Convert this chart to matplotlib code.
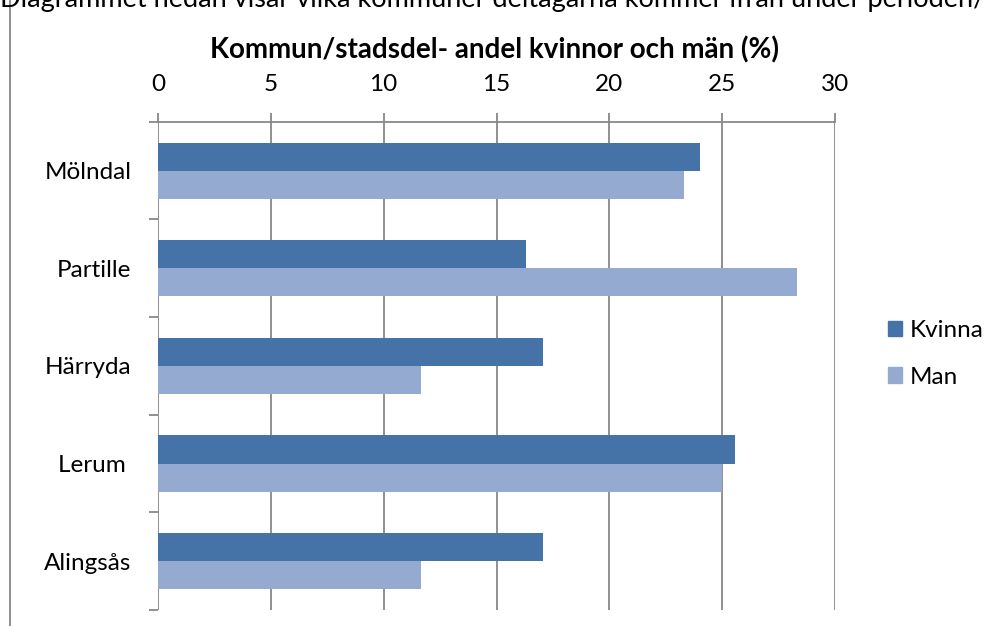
import matplotlib
matplotlib.use("Agg")
import matplotlib.pyplot as plt
from matplotlib.patches import Rectangle, Patch
import numpy as np

plt.rcParams['font.family'] = ['Lato', 'DejaVu Sans']

categories = ["Mölndal", "Partille", "Härryda", "Lerum ", "Alingsås"]
kvinna = [24.0, 16.3, 17.05, 25.55, 17.05]
man = [23.3, 28.3, 11.65, 25.0, 11.65]
xticks = [0, 5, 10, 15, 20, 25, 30]
title = "Kommun/stadsdel- andel kvinnor och män (%)"
header = "Diagrammet nedan visar vilka kommuner deltagarna kommer ifrån under perioden/"

c_k = "#4573A8"
c_m = "#95AAD1"
grid_c = "#888888"

W, H = 997, 626
fig = plt.figure(figsize=(W/100, H/100), dpi=100)

# outer chart frame
fig.patches.append(Rectangle((10/W, -0.2), 1.2, 1.2 + (1 - 11/H), transform=fig.transFigure,
                             fill=False, edgecolor=grid_c, linewidth=1.3))
fig.text(0.0, 1 - 7/H, header, fontsize=19.5, ha='left', va='baseline', color='black')

left, right, top, bottom = 158/W, 835/W, 1 - 121.7/H, 1 - 610/H
ax = fig.add_axes([left, bottom, right - left, top - bottom])

y = np.arange(len(categories))
bh = 0.287
ax.barh(y - bh/2, kvinna, height=bh, color=c_k, label="Kvinna", zorder=3)
ax.barh(y + bh/2, man, height=bh, color=c_m, label="Man", zorder=3)

ax.set_xlim(0, 30)
ax.set_ylim(len(categories) - 0.5, -0.5)
ax.xaxis.tick_top()
ax.set_xticks(xticks)
ax.set_xticklabels([str(v) for v in xticks], fontsize=17.5)
ax.tick_params(axis='x', direction='out', length=6.5, width=1.3, color=grid_c, pad=13)
ax.grid(axis='x', color=grid_c, linewidth=1.3, zorder=0)

ax.set_yticks(np.arange(-0.5, len(categories), 1.0))
ax.set_yticklabels([])
ax.set_yticks(y, minor=True)
ax.set_yticklabels(categories, minor=True, fontsize=17.5)
ax.tick_params(axis='y', which='major', direction='out', length=6.5, width=1.3, color=grid_c)
ax.tick_params(axis='y', which='minor', length=0, pad=19)

for s in ['right', 'bottom', 'left']:
    ax.spines[s].set_visible(False)
ax.spines['top'].set_color(grid_c)
ax.spines['top'].set_linewidth(1.3)

fig.text(0.496, 1 - 50/H, title, fontsize=20, fontweight='bold', ha='center', va='center')

handles = [Patch(color=c_k, label="Kvinna"), Patch(color=c_m, label="Man")]
fig.legend(handles=handles, loc='center left', bbox_to_anchor=(878/W, 1 - 354/H),
           frameon=False, fontsize=17.5, handlelength=0.6, handleheight=0.6,
           handletextpad=0.3, labelspacing=1.05, borderaxespad=0)

fig.savefig("out.png", dpi=100)
